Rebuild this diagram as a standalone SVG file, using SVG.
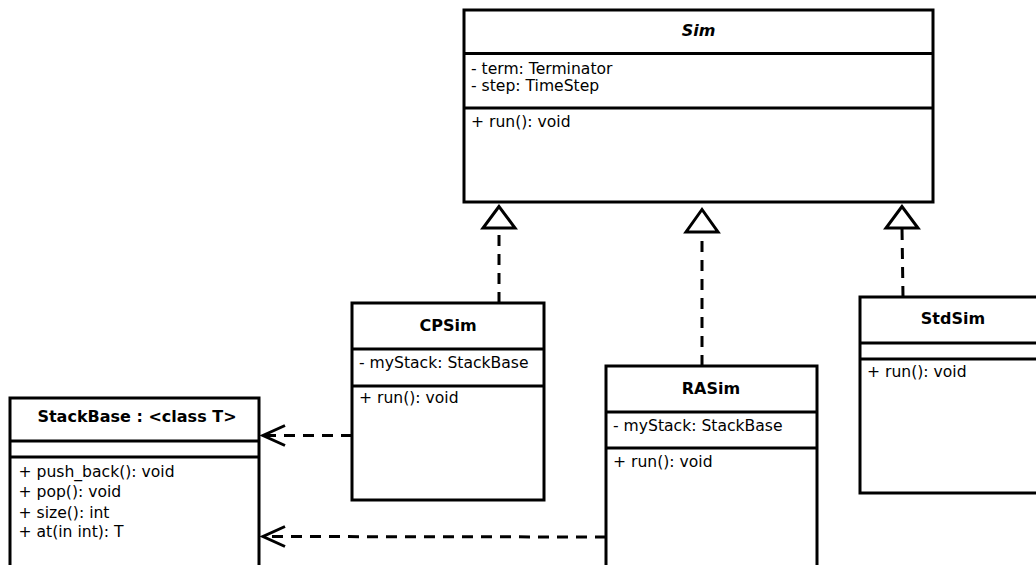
<svg xmlns="http://www.w3.org/2000/svg" width="1036" height="565" viewBox="0 0 1036 565">
  <style>
    .box { fill: #ffffff; stroke: #000000; stroke-width: 3; }
    .div { stroke: #000000; stroke-width: 3; }
    .t { font-family: "DejaVu Sans", sans-serif; font-size: 15.6px; fill: #000000; }
    .title { font-family: "DejaVu Sans", sans-serif; font-size: 16px; font-weight: bold; fill: #000000; text-anchor: middle; }
    .dash { fill: none; stroke: #000000; stroke-width: 3; stroke-dasharray: 11 8; }
    .tri { fill: #ffffff; stroke: #000000; stroke-width: 3; stroke-linejoin: miter; }
    .open { fill: none; stroke: #000000; stroke-width: 3; }
  </style>
  <rect width="1036" height="565" fill="#ffffff"/>

  <g id="Sim">
    <rect class="box" x="464" y="10" width="469" height="192"/>
    <line class="div" x1="464" y1="53.5" x2="933" y2="53.5"/>
    <line class="div" x1="464" y1="108" x2="933" y2="108"/>
    <text class="title" x="698.5" y="36" font-style="italic">Sim</text>
    <text class="t" x="471" y="73.5">- term: Terminator</text>
    <text class="t" x="471" y="91">- step: TimeStep</text>
    <text class="t" x="471" y="126.5">+ run(): void</text>
  </g>

  <g id="CPSim">
    <rect class="box" x="352" y="303" width="192" height="197"/>
    <line class="div" x1="352" y1="349" x2="544" y2="349"/>
    <line class="div" x1="352" y1="386" x2="544" y2="386"/>
    <text class="title" x="448" y="331">CPSim</text>
    <text class="t" x="359" y="368">- myStack: StackBase</text>
    <text class="t" x="359" y="403">+ run(): void</text>
  </g>

  <g id="RASim">
    <rect class="box" x="606" y="366" width="211" height="220"/>
    <line class="div" x1="606" y1="412" x2="817" y2="412"/>
    <line class="div" x1="606" y1="448" x2="817" y2="448"/>
    <text class="title" x="711" y="394">RASim</text>
    <text class="t" x="613" y="431">- myStack: StackBase</text>
    <text class="t" x="613" y="467">+ run(): void</text>
  </g>

  <g id="StdSim">
    <rect class="box" x="860" y="297" width="186" height="196"/>
    <line class="div" x1="860" y1="343" x2="1046" y2="343"/>
    <line class="div" x1="860" y1="359" x2="1046" y2="359"/>
    <text class="title" x="953" y="324">StdSim</text>
    <text class="t" x="867" y="377">+ run(): void</text>
  </g>

  <g id="StackBase">
    <rect class="box" x="10" y="398" width="249" height="200"/>
    <line class="div" x1="10" y1="441" x2="259" y2="441"/>
    <line class="div" x1="10" y1="457" x2="259" y2="457"/>
    <text class="title" x="137" y="422">StackBase : &lt;class T&gt;</text>
    <text class="t" x="18.5" y="477">+ push_back(): void</text>
    <text class="t" x="18.5" y="497">+ pop(): void</text>
    <text class="t" x="18.5" y="517.5">+ size(): int</text>
    <text class="t" x="18.5" y="537">+ at(in int): T</text>
  </g>

  <g id="connectors">
    <line class="dash" x1="499" y1="303" x2="499" y2="228"/>
    <polygon class="tri" points="499,206.5 483,228 515,228"/>
    <line class="dash" x1="702" y1="366" x2="702" y2="232"/>
    <polygon class="tri" points="702,209.5 686,232 718,232"/>
    <line class="dash" x1="903" y1="297" x2="902" y2="228"/>
    <polygon class="tri" points="902,206.5 886,228 918,228"/>
    <line class="dash" x1="352" y1="435.5" x2="263" y2="435.5"/>
    <polyline class="open" points="285,425.5 263,435.5 285,445.5"/>
    <line class="dash" x1="606" y1="537" x2="263" y2="536.5"/>
    <polyline class="open" points="285,526.5 263,536.5 285,546.5"/>
  </g>
</svg>
